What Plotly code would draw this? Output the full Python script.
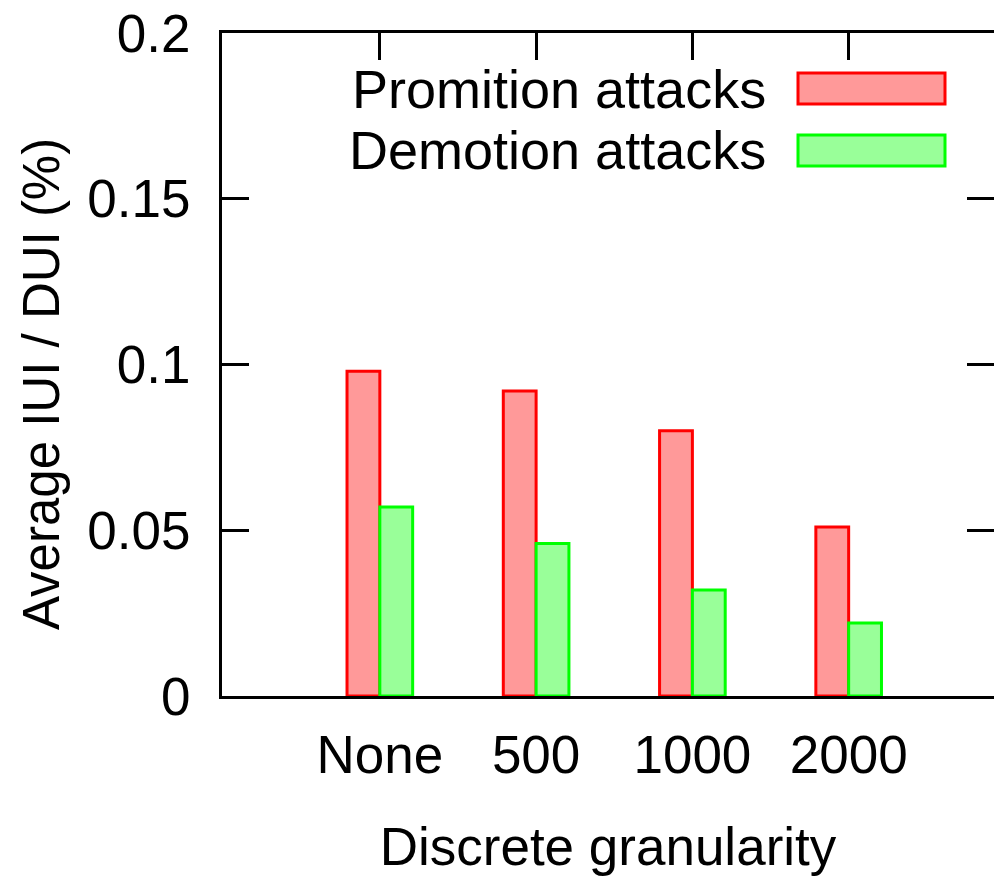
import plotly.graph_objects as go

categories = ["None", "500", "1000", "2000"]
promotion = [0.098, 0.092, 0.080, 0.051]
demotion = [0.057, 0.046, 0.032, 0.022]
series_names = ["Promition attacks", "Demotion attacks"]
y_tickvals = [0, 0.05, 0.1, 0.15, 0.2]
y_ticktext = ["0", "0.05", "0.1", "0.15", "0.2"]
x_title = "Discrete granularity"
y_title = "Average IUI / DUI (%)"

FONT = "Liberation Sans, Arial, Helvetica, sans-serif"
FS = 53
pos = list(range(len(categories)))

fig = go.Figure()
fig.add_trace(go.Bar(
    x=pos, y=promotion, name=series_names[0], width=0.21, offset=-0.21,
    marker=dict(color="#ff9999", line=dict(color="#ff0000", width=3)),
    showlegend=False,
))
fig.add_trace(go.Bar(
    x=pos, y=demotion, name=series_names[1], width=0.21, offset=0,
    marker=dict(color="#99ff99", line=dict(color="#00ff00", width=3)),
    showlegend=False,
))
# empty trace to host mirrored top/right tick axes
fig.add_trace(go.Scatter(x=[], y=[], xaxis="x2", yaxis="y2", showlegend=False, hoverinfo="skip"))

xr = [-1.01, 3.93]
yr = [0, 0.2]
fig.update_layout(
    width=994, height=876,
    margin=dict(l=222, r=0, t=33, b=180),
    paper_bgcolor="white", plot_bgcolor="white",
    barmode="overlay",
    font=dict(family=FONT, size=FS, color="black"),
    xaxis=dict(
        range=xr, tickvals=pos, ticktext=categories, ticks="",
        showline=True, linecolor="black", linewidth=3, showgrid=False, zeroline=False,
        ticklabelstandoff=10,
        title=dict(text=x_title, standoff=47, font=dict(size=FS)),
        tickfont=dict(size=FS),
    ),
    yaxis=dict(
        range=yr, tickvals=y_tickvals, ticktext=y_ticktext,
        ticks="inside", ticklen=27, tickwidth=3, tickcolor="black",
        showline=True, linecolor="black", linewidth=3, showgrid=False, zeroline=False,
        ticklabelstandoff=18, ticklabeloverflow="allow",
        tickfont=dict(size=FS),
    ),
    xaxis2=dict(
        range=xr, overlaying="x", side="top", tickvals=pos, showticklabels=False,
        ticks="inside", ticklen=27, tickwidth=3, tickcolor="black",
        showline=True, linecolor="black", linewidth=3, showgrid=False, zeroline=False,
    ),
    yaxis2=dict(
        range=yr, overlaying="y", side="right", tickvals=y_tickvals, showticklabels=False,
        ticks="inside", ticklen=27, tickwidth=3, tickcolor="black",
        showline=False, showgrid=False, zeroline=False,
    ),
)

# y-axis title (placed as gnuplot does, slightly below the plot's centre)
fig.add_annotation(xref="paper", yref="paper", x=(41 - 222) / 772, y=(696 - 384) / 663,
                   text=y_title, textangle=-90, showarrow=False,
                   xanchor="center", yanchor="middle",
                   font=dict(family=FONT, size=51, color="black"))

# legend drawn gnuplot-style: right-aligned text with sample box on the right
legend_rows = [(0.9155, "#ff9999", "#ff0000", 0.893, 0.9397),
               (0.8235, "#99ff99", "#00ff00", 0.7994, 0.846)]
for name, (yc, fill, edge, y0, y1) in zip(series_names, legend_rows):
    fig.add_annotation(xref="paper", yref="paper", x=(768 - 222) / 772, y=yc,
                       text=name, showarrow=False, xanchor="right", yanchor="middle",
                       font=dict(family=FONT, size=54, color="black"))
    fig.add_shape(type="rect", xref="paper", yref="paper",
                  x0=(798 - 222) / 772, x1=(945 - 222) / 772, y0=y0, y1=y1,
                  fillcolor=fill, line=dict(color=edge, width=3))

fig.write_html("out.html",
               config={"displayModeBar": False},
               post_script="document.body.style.margin='0';document.body.style.overflow='hidden';")
